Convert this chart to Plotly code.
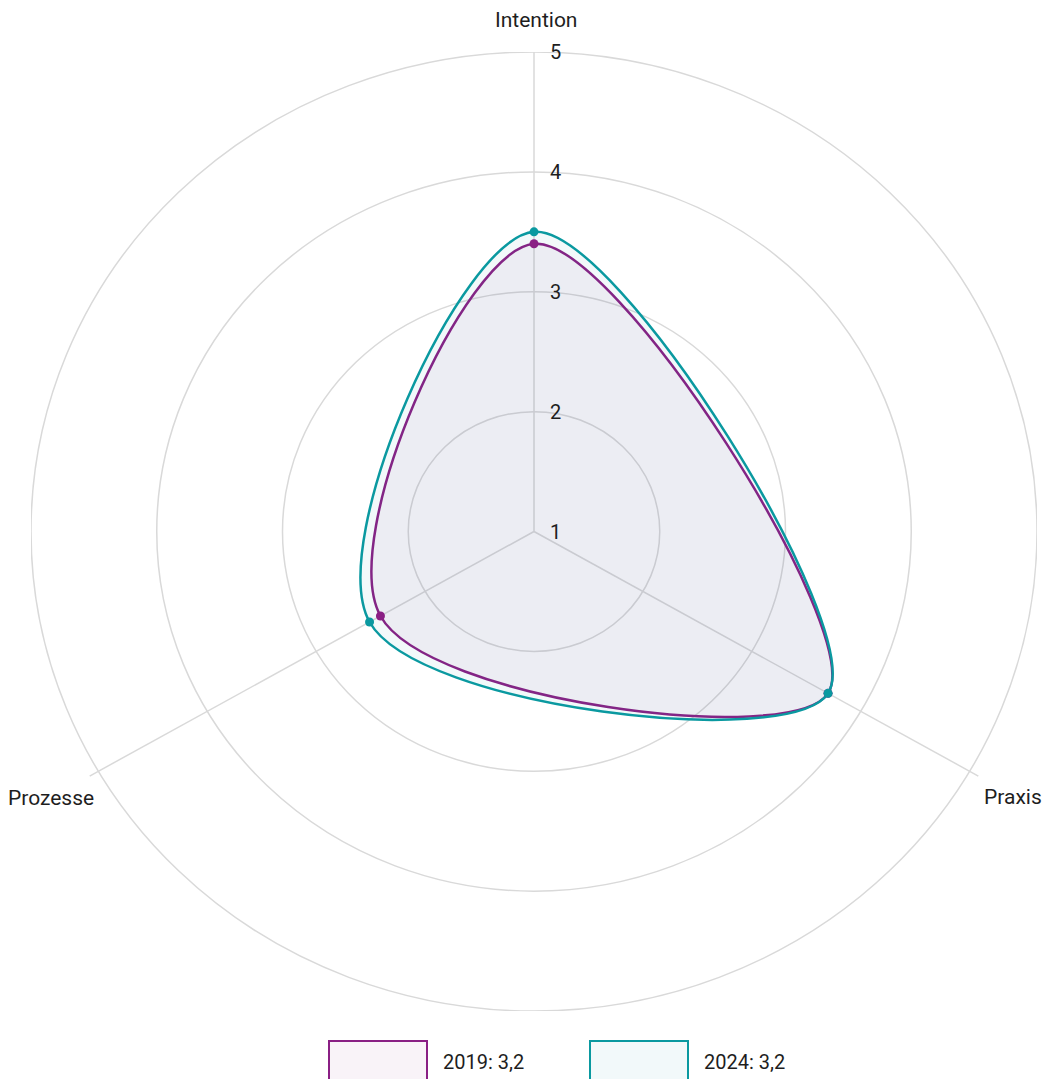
import numpy as np
import plotly.graph_objects as go

# Radar data: one score per dimension, scale 1..5
categories = ["Intention", "Praxis", "Prozesse"]
values_2019 = [3.40, 3.70, 2.41]
values_2024 = [3.50, 3.70, 2.51]
series_names = ["2019", "2024"]
radial_ticks = [1, 2, 3, 4, 5]

line_colors = ["#8a1f84", "#0a99a0"]
fill_colors = ["rgba(138,31,132,0.055)", "rgba(10,153,160,0.055)"]
grid_color = "#d9d9d9"
text_color = "#1e1e1e"
font_family = "Roboto, 'Noto Sans', sans-serif"

W, H = 1043, 1079
M_L, M_R, M_T, M_B = 31, 6, 52, 68
r_min, r_max = radial_ticks[0], radial_ticks[-1]
span = r_max - r_min

n = len(categories)
theta = np.radians(np.arange(n) * 360.0 / n)  # clockwise from the top


def to_xy(vals):
    r = np.asarray(vals, dtype=float) - r_min
    x = r * np.sin(theta)
    y = r * np.cos(theta)
    # close the loop so the spline is drawn as a smooth closed curve
    return np.append(x, x[0]), np.append(y, y[0])


def paper(px, py):
    pw = W - M_L - M_R
    ph = H - M_T - M_B
    return (px - M_L) / pw, (H - M_B - py) / ph


fig = go.Figure()

for name, vals, lc, fc in zip(series_names, [values_2019, values_2024], line_colors, fill_colors):
    x, y = to_xy(vals)
    fig.add_trace(go.Scatter(
        x=x, y=y, name=name, mode="lines",
        line=dict(color=lc, width=2.5, shape="spline", smoothing=1.05),
        fill="toself", fillcolor=fc, hoverinfo="skip", showlegend=False,
    ))
for name, vals, lc in zip(series_names, [values_2019, values_2024], line_colors):
    x, y = to_xy(vals)
    fig.add_trace(go.Scatter(
        x=x[:-1], y=y[:-1], mode="markers", cliponaxis=False,
        marker=dict(color=lc, size=9), hoverinfo="skip", showlegend=False,
    ))

shapes = []
annotations = []

# concentric grid rings
for t in radial_ticks[1:]:
    rr = t - r_min
    shapes.append(dict(type="circle", xref="x", yref="y", x0=-rr, x1=rr, y0=-rr, y1=rr,
                       line=dict(color=grid_color, width=1.5), layer="below"))
# spokes
for th in theta:
    rr = span * 1.02
    shapes.append(dict(type="line", xref="x", yref="y", x0=0, y0=0,
                       x1=rr * np.sin(th), y1=rr * np.cos(th),
                       line=dict(color=grid_color, width=1.5), layer="below"))

# radial tick labels
for t in radial_ticks:
    annotations.append(dict(x=0, y=t - r_min, xref="x", yref="y", text=str(t),
                            showarrow=False, xanchor="left", yanchor="middle", xshift=14,
                            font=dict(size=20, color=text_color, family=font_family)))

# category labels around the outer ring
label_pos = [
    dict(xanchor="center", yanchor="middle", xshift=2, yshift=32),
    dict(xanchor="left", yanchor="middle", xshift=12, yshift=-26),
    dict(xanchor="right", yanchor="middle", xshift=-2, yshift=-27),
]
for cat, th, pos in zip(categories, theta, label_pos):
    annotations.append(dict(x=span * np.sin(th), y=span * np.cos(th), xref="x", yref="y",
                            text=cat, showarrow=False,
                            font=dict(size=21, color=text_color, family=font_family), **pos))

# legend boxes with the average score of each year
legend_boxes = [(329, 427), (590, 688)]
for name, vals, lc, fc, (bx0, bx1) in zip(series_names, [values_2019, values_2024],
                                            line_colors, fill_colors, legend_boxes):
    px0, py0 = paper(bx0, 1041)
    px1, py1 = paper(bx1, 1100)
    shapes.append(dict(type="rect", xref="paper", yref="paper", x0=px0, x1=px1, y0=py1, y1=py0,
                       line=dict(color=lc, width=2), fillcolor=fc, layer="above"))
    avg = f"{np.mean(vals):.1f}".replace(".", ",")
    tx, ty = paper(bx1 + 14, 1062)
    annotations.append(dict(x=tx, y=ty, xref="paper", yref="paper", text=f"{name}: {avg}",
                            showarrow=False, xanchor="left", yanchor="middle",
                            font=dict(size=20, color=text_color, family=font_family)))

axis_common = dict(range=[-span, span], showgrid=False, zeroline=False, showticklabels=False,
                   showline=False, ticks="", fixedrange=True)
fig.update_layout(
    width=W, height=H, autosize=False,
    margin=dict(l=M_L, r=M_R, t=M_T, b=M_B, pad=0),
    paper_bgcolor="white", plot_bgcolor="white",
    xaxis=axis_common, yaxis=axis_common,
    shapes=shapes, annotations=annotations,
    showlegend=False,
)

fig.write_html("out.html", config={"displayModeBar": False})
